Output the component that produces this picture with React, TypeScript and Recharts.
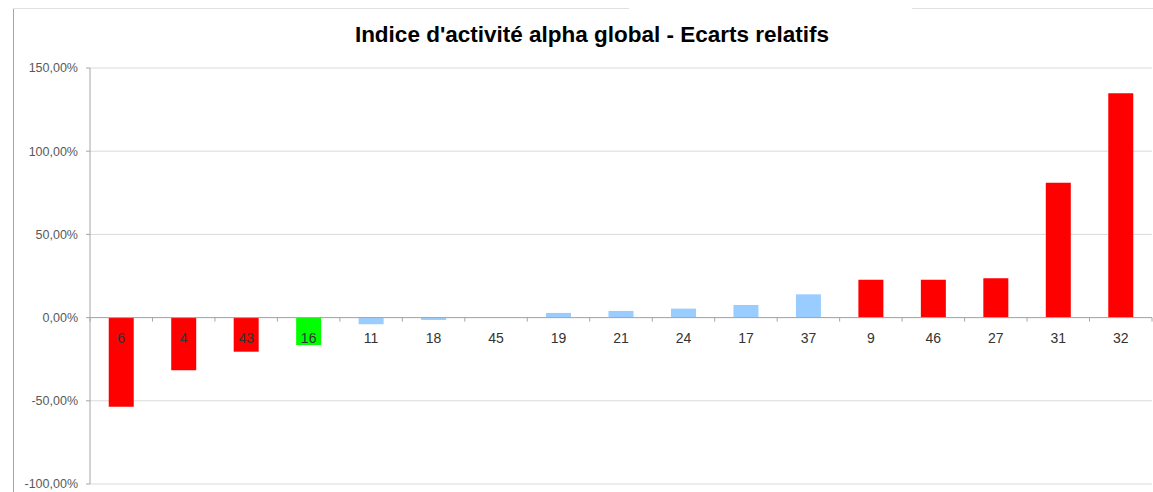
import { Bar, BarChart, CartesianGrid, Cell, LabelList, ReferenceLine, XAxis, YAxis } from "recharts";

const categories = ["6", "4", "43", "16", "11", "18", "45", "19", "21", "24", "17", "37", "9", "46", "27", "31", "32"];
const ecarts = [-53.6, -31.7, -20.5, -16.5, -4, -1.4, 0.1, 2.8, 4, 5.4, 7.6, 14, 22.7, 22.7, 23.7, 81.1, 134.8];
// statut de chaque établissement : alerte (rouge), ok (vert), normal (bleu)
const statuts = ["alerte", "alerte", "alerte", "ok", "normal", "normal", "normal", "normal", "normal", "normal", "normal", "normal", "alerte", "alerte", "alerte", "alerte", "alerte"];
const yTicks = [-100, -50, 0, 50, 100, 150];

const COLORS: Record<string, string> = { alerte: "#ff0000", ok: "#00ff00", normal: "#99ccff" };
const FONT = "'Liberation Sans', Arial, sans-serif";
const AXIS_GREY = "#a6a6a6";

const data = categories.map((name, i) => ({ name, ecart: ecarts[i], statut: statuts[i] }));

const formatPct = (v: number) => `${v.toFixed(2).replace(".", ",")}%`;

// étiquette de catégorie posée sous l'axe zéro (comme dans Excel)
function CategoryLabel(props: any) {
  const vb = props.viewBox ?? props;
  const x = Number(vb.x);
  const y = Number(vb.y);
  const w = Number(vb.width);
  const h = Number(vb.height);
  const idx = Number(props.index);
  let zeroY = y + h;
  if (h >= 0 && ecarts[idx] < 0) zeroY = y;
  const cx = x + w / 2;
  const band = w / 0.4;
  return (
    <g>
      <line x1={cx - band / 2} x2={cx - band / 2} y1={zeroY} y2={zeroY + 4} stroke={AXIS_GREY} />
      {idx === categories.length - 1 && (
        <line x1={cx + band / 2} x2={cx + band / 2} y1={zeroY} y2={zeroY + 4} stroke={AXIS_GREY} />
      )}
      <text x={cx} y={zeroY + 20} textAnchor="middle" dominantBaseline="central" fontSize={14} fontFamily={FONT} fill="#333333">
        {props.value}
      </text>
    </g>
  );
}

export default function App() {
  return (
    <div style={{ position: "relative", width: 1153, height: 492, background: "#fff", overflow: "hidden" }}>
      <style>{`body{margin:0}`}</style>
      <div style={{ position: "absolute", left: 13, top: 8, width: 1, height: 484, background: AXIS_GREY }} />
      <div style={{ position: "absolute", left: 13, top: 8, width: 616, height: 1, background: "#e0e0e0" }} />
      <div style={{ position: "absolute", left: 912, top: 8, width: 241, height: 1, background: "#e0e0e0" }} />
      <div
        style={{
          position: "absolute",
          left: 0,
          width: 1184,
          top: 20,
          textAlign: "center",
          fontFamily: FONT,
          fontWeight: "bold",
          fontSize: 22.5,
          lineHeight: "30px",
          color: "#000",
        }}
      >
        Indice d'activité alpha global - Ecarts relatifs
      </div>
      <BarChart
        width={1153}
        height={492}
        data={data}
        margin={{ top: 68, right: 1, bottom: 8, left: 0 }}
        barCategoryGap="30%"
      >
        <CartesianGrid vertical={false} stroke="#d9d9d9" />
        <XAxis dataKey="name" hide />
        <YAxis
          width={90}
          domain={[-100, 150]}
          ticks={yTicks}
          interval={0}
          tickFormatter={formatPct}
          axisLine={{ stroke: AXIS_GREY }}
          tickLine={{ stroke: AXIS_GREY }}
          tickSize={4}
          tickMargin={8}
          tick={{ fill: "#595959", fontSize: 12.5, fontFamily: FONT }}
        />
        <ReferenceLine y={0} stroke={AXIS_GREY} />
        <Bar dataKey="ecart" isAnimationActive={false}>
          {data.map((d) => (
            <Cell key={d.name} fill={COLORS[d.statut]} />
          ))}
          <LabelList dataKey="name" content={CategoryLabel} />
        </Bar>
      </BarChart>
    </div>
  );
}
